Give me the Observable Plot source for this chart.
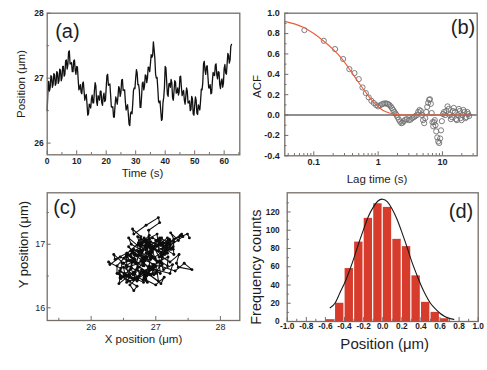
<!DOCTYPE html>
<html><head><meta charset="utf-8">
<script src="https://cdn.jsdelivr.net/npm/d3@7"></script>
<script src="https://cdn.jsdelivr.net/npm/@observablehq/plot@0.6"></script>
<style>
body{margin:0;background:#fff;}
#fig{position:relative;width:487px;height:370px;overflow:hidden;background:#fff;}
#fig > div{position:absolute;height:185px;}
svg{overflow:visible;}
</style></head><body>
<div id="fig"><div id="pa" style="left:0;top:0;width:243px"></div><div id="pb" style="left:243px;top:0;width:244px"></div><div id="pc" style="left:0;top:185px;width:243px"></div><div id="pd" style="left:243px;top:185px;width:244px"></div></div>
<script>
// ---------- DATA ----------
// (a) X position vs time, sampled every 0.25 s (4 values per second)
const timeStep = 0.25;
const posX = [
26.50,26.82,26.95,26.80, 26.85,27.04,27.02,26.86, 26.90,27.07,27.05,26.89, 26.92,27.10,27.08,26.92,
26.96,27.14,27.12,26.96, 27.00,27.18,27.18,27.03, 27.06,27.27,27.28,27.14, 27.20,27.40,27.42,27.22,
27.22,27.24,27.10,27.10, 27.27,27.28,27.12,27.06, 27.18,27.17,26.98,26.82, 26.85,26.90,26.78,26.76,
26.92,26.94,26.80,26.66, 26.72,26.75,26.60,26.43, 26.45,26.60,26.58,26.54, 26.68,26.74,26.62,26.62,
26.80,26.93,26.88,26.64, 26.58,26.73,26.70,26.66, 26.80,26.80,26.62,26.58, 26.72,26.77,26.64,26.66,
26.85,27.04,27.06,26.89, 26.90,26.91,26.74,26.56, 26.55,26.56,26.40,26.40, 26.58,26.71,26.66,26.60,
26.72,26.87,26.84,26.72, 26.78,26.97,26.98,26.81, 26.82,26.82,26.64,26.51, 26.55,26.59,26.45,26.29,
26.27,26.46,26.48,26.45, 26.60,26.81,26.85,26.84, 27.00,27.13,27.08,26.90, 26.90,26.81,26.55,26.55,
26.72,26.92,26.94,26.82, 26.88,27.05,27.04,26.93, 27.00,27.17,27.16,27.10, 27.22,27.36,27.32,27.35,
27.56,27.44,27.30,27.06, 27.00,27.01,26.84,26.64, 26.62,26.65,26.50,26.35, 26.37,26.62,26.70,26.85,
27.18,27.16,26.95,26.75, 26.72,26.91,26.92,26.86, 26.98,26.93,26.70,26.66, 26.80,26.96,26.94,26.77,
26.78,26.85,26.74,26.79, 27.02,27.03,26.86,26.73, 26.78,26.81,26.66,26.60, 26.72,26.85,26.80,26.62,
26.62,26.65,26.50,26.52, 26.72,26.68,26.45,26.43, 26.58,26.71,26.66,26.46, 26.44,26.59,26.55,26.51,
26.65,26.83,26.82,26.93, 27.22,27.26,27.12,27.06, 27.18,27.19,27.02,26.85, 26.85,26.90,26.76,26.77,
26.95,27.09,27.05,27.04, 27.20,27.22,27.05,26.99, 27.10,27.09,26.90,26.84, 26.95,26.99,26.86,26.92,
27.15,27.21,27.08,27.06, 27.22,27.38,27.35,27.23, 27.28,27.49,27.52
];
// (c) Y position, same sampling as posX
const posY = [
16.70,16.52,16.62,16.44, 16.56,16.42,16.58,16.50, 16.66,16.54,16.72,16.62, 16.80,16.68,16.86,16.76,
16.94,16.84,17.02,16.92, 17.06,16.94,17.10,16.98, 17.08,16.92,17.04,16.90, 17.02,17.16,17.12,16.98,
17.06,16.92,17.00,16.86, 16.96,16.84,16.94,16.80, 16.92,17.04,16.96,17.10, 17.00,17.14,17.02,16.88,
16.96,16.80,16.70,16.56, 16.64,16.50,16.42,16.54, 16.46,16.60,16.52,16.66, 16.76,16.64,16.80,16.90,
16.78,16.92,17.02,16.88, 16.96,16.82,16.70,16.84, 16.74,16.90,17.00,17.10, 16.98,17.12,17.24,17.16,
17.30,17.42,17.34,17.22, 17.08,16.94,17.02,16.86, 16.74,16.84,16.66,16.54, 16.42,16.34,16.27,16.36,
16.48,16.40,16.54,16.46, 16.60,16.52,16.68,16.76, 16.66,16.80,16.88,16.78, 16.86,16.74,16.80,16.68,
16.72,16.62,16.70,16.58, 16.50,16.40,16.54,16.44, 16.36,16.48,16.38,16.52, 16.60,16.72,16.64,16.80,
16.90,16.78,16.94,17.04, 16.96,17.08,16.98,16.88, 16.98,16.86,16.92,16.80, 16.72,16.84,16.70,16.64,
16.60,16.70,16.58,16.66, 16.54,16.66,16.58,16.72, 16.64,16.78,16.70,16.84, 16.76,16.90,16.82,16.96,
16.86,17.00,17.10,16.98, 17.12,17.02,16.90,16.78, 16.64,16.52,16.60,16.46, 16.56,16.68,16.60,16.74,
16.86,16.98,16.88,17.04, 17.16,17.06,16.94,17.02, 16.90,16.80,16.92,16.82, 16.70,16.80,16.66,16.74,
16.62,16.52,16.64,16.54, 16.44,16.56,16.48,16.38, 16.50,16.42,16.54,16.46, 16.58,16.48,16.40,16.52,
16.44,16.56,16.48,16.62, 16.54,16.68,16.60,16.74, 16.66,16.80,16.72,16.86, 16.94,16.84,16.98,17.08,
16.96,17.10,17.00,16.90, 17.02,16.92,16.80,16.92, 16.82,16.70,16.84,16.76, 16.88,16.78,16.92,17.04,
16.96,17.08,16.98,17.10, 17.02,17.14,17.06,17.18, 17.08,17.16,17.10
];
// (b) autocorrelation points
const lagTime = [
0.0714,0.143,0.214,0.286,0.357,0.429,0.5,0.571,0.643,0.714,
0.786,0.857,0.929,1.0,1.07,1.14,1.21,1.29,1.36,1.43,
1.5,1.57,1.64,1.71,1.79,1.86,1.93,2.0,2.1,2.2,
2.3,2.4,2.5,2.65,2.8,3.0,3.2,3.4,3.6,3.8,
4.0,4.2,4.4,4.6,4.8,5.0,5.2,5.4,5.6,5.8,
6.0,6.2,6.4,6.6,6.8,7.0,7.2,7.4,7.6,7.8,
8.0,8.3,8.6,8.9,9.2,9.5,9.8,10.2,10.6,11.0,
11.5,12.0,12.5,13.0,13.5,14.0,14.5,15.0,15.6,16.2,
16.8,17.4,18.0,18.6,19.2,19.8,20.5,21.2,22.0,22.8,
23.6,24.4,25.2,26.0
];
const acfValue = [
0.834,0.729,0.648,0.55,0.451,0.412,0.353,0.271,0.216,0.173,
0.14,0.118,0.098,0.085,0.095,0.105,0.112,0.115,0.113,0.108,
0.098,0.085,0.068,0.05,0.032,0.015,0.0,-0.02,-0.045,-0.065,
-0.08,-0.075,-0.06,-0.045,-0.04,-0.05,-0.045,-0.03,-0.02,-0.01,
0.0,0.03,0.05,0.04,0.0,-0.05,-0.08,-0.03,0.03,0.08,
0.12,0.15,0.155,0.11,0.02,-0.07,-0.11,-0.07,-0.05,-0.1,
-0.16,-0.22,-0.26,-0.275,-0.23,-0.15,-0.06,0.01,0.03,0.0,
0.04,0.085,0.06,0.0,-0.04,-0.02,0.04,0.07,0.03,-0.04,
-0.05,0.0,0.06,0.04,-0.03,-0.05,0.0,0.05,0.03,-0.03,
-0.02,0.03,0.01,-0.01
];
// (b) fitted curve
const fitLag = [0.0354,0.05,0.07,0.1,0.14,0.2,0.28,0.35,0.45,0.55,0.7,0.85,1.0,1.2,1.5,2.0,3,5,10,20,26];
const fitAcf = [0.92,0.895,0.86,0.80,0.73,0.645,0.545,0.46,0.36,0.28,0.19,0.125,0.08,0.045,0.02,0.005,0.0,0.0,0.0,0.0,0.0];
// (d) histogram
const binStart = [-0.6,-0.5,-0.4,-0.3,-0.2,-0.1,0.0,0.1,0.2,0.3,0.4,0.5,0.6];
const binWidth = 0.1;
const binCount = [2,20,58,87,113,129,125,90,82,50,21,10,3];
// (d) Gaussian fit curve
const gaussX = [-0.55,-0.5,-0.45,-0.4,-0.35,-0.3,-0.25,-0.2,-0.15,-0.1,-0.05,0,0.05,0.1,0.15,0.2,0.25,0.3,0.35,0.4,0.45,0.5,0.55,0.6,0.65,0.7,0.745];
const gaussY = [15,20,31,42,55,70,86,101,115,125,132,134,131,123,112,98,83,67,53,40,29,20,14,9,5.6,3.4,2.3];
// tick values
const aXTicks = [0,10,20,30,40,50,60], aXMinor = [5,15,25,35,45,55,65];
const aYTicks = [26,27,28], aYMinor = [26.5,27.5];
const bXTicks = [0.1,1,10], bXMinor = [0.04,0.05,0.06,0.07,0.08,0.09,0.2,0.3,0.4,0.5,0.6,0.7,0.8,0.9,2,3,4,5,6,7,8,9,20,30];
const bYTicks = [-0.4,-0.2,0.0,0.2,0.4,0.6,0.8,1.0], bYMinor = [-0.3,-0.1,0.1,0.3,0.5,0.7,0.9];
const cXTicks = [26,27,28], cXMinor = [25.5,26.5,27.5];
const cYTicks = [16,17], cYMinor = [16.5,17.5];
const dXTicks = [-1.0,-0.8,-0.6,-0.4,-0.2,0.0,0.2,0.4,0.6,0.8,1.0], dXMinor = [-0.9,-0.7,-0.5,-0.3,-0.1,0.1,0.3,0.5,0.7,0.9];
const dYTicks = [0,20,40,60,80,100,120], dYMinor = [10,30,50,70,90,110,130];

// ---------- TABLES ----------
const track = posX.map((x, i) => ({t: i * timeStep, x, y: posY[i]}));
const acf = lagTime.map((t, i) => ({t, v: acfValue[i]}));
const fit = fitLag.map((t, i) => ({t, v: fitAcf[i]}));
const bins = binStart.map((s, i) => ({x1: s, x2: s + binWidth, n: binCount[i]}));
const gauss = gaussX.map((x, i) => ({x, y: gaussY[i]}));

// ---------- DRAW ----------
const FONT = '"Liberation Sans", Arial, Helvetica, sans-serif';
const FRAME = "#746e69";
const INK = "#1e1e1e";

function panel(id, c) {
  const pw = c.width - c.ml - c.mr, ph = c.height - c.mt - c.mb;
  const marks = [
    ...c.marks,
    Plot.frame({stroke: FRAME, strokeWidth: 1.3}),
    Plot.tickX(c.xt, {x: d => d, stroke: FRAME, strokeWidth: 1, insetTop: ph - 4}),
    Plot.tickX(c.xm, {x: d => d, stroke: FRAME, strokeWidth: 1, insetTop: ph - 2.2}),
    Plot.tickY(c.yt, {y: d => d, stroke: FRAME, strokeWidth: 1, insetRight: pw - 4}),
    Plot.tickY(c.ym, {y: d => d, stroke: FRAME, strokeWidth: 1, insetRight: pw - 2.2}),
    Plot.axisX(c.xt, {tickSize: 0, tickPadding: c.xPad, tickFormat: c.xFmt, fontSize: c.tfs, fontWeight: c.tfw, fill: INK, label: null}),
    Plot.axisY(c.yt, {tickSize: 0, tickPadding: c.yPad, tickFormat: c.yFmt, fontSize: c.tfs, fontWeight: c.tfw, fill: INK, label: null}),
    Plot.text([c.xLabel], {text: d => d, frameAnchor: "bottom", dx: c.xlDx || 0, dy: c.xlDy, fontSize: c.xlFs, lineAnchor: "middle", textAnchor: "middle", fill: INK}),
    Plot.text([c.yLabel], {text: d => d, frameAnchor: "left", rotate: -90, dx: c.ylDx, dy: c.ylDy || 0, fontSize: c.ylFs, lineAnchor: "middle", textAnchor: "middle", fill: INK}),
    Plot.text([c.tag], {text: d => d, frameAnchor: c.tagAnchor, dx: c.tagDx, dy: c.tagDy, fontSize: 20, lineAnchor: "top", textAnchor: c.tagAnchor.endsWith("left") ? "start" : "end", fill: INK})
  ];
  const p = Plot.plot({
    width: c.width, height: c.height,
    marginLeft: c.ml, marginRight: c.mr, marginTop: c.mt, marginBottom: c.mb,
    x: {...c.x, axis: null}, y: {...c.y, axis: null},
    style: {fontFamily: FONT, background: "transparent", overflow: "visible"},
    marks
  });
  document.getElementById(id).appendChild(p);
}

const f1 = d => d.toFixed(1);

panel("pa", {
  width: 243, height: 185, ml: 46.7, mr: 3.7, mt: 12.7, mb: 30.7,
  x: {domain: [0, 65.3]}, y: {domain: [25.82, 28]},
  xt: aXTicks, xm: aXMinor, yt: aYTicks, ym: aYMinor,
  xPad: 3, yPad: 3.4, tfs: 8.5, tfw: "bold", xFmt: d => String(d), yFmt: d => String(d),
  xLabel: "Time (s)", xlDy: 19, xlFs: 11.5, xlDx: -1,
  yLabel: "Position (μm)", ylDx: -26, ylFs: 11.5,
  tag: "(a)", tagAnchor: "top-left", tagDx: 8, tagDy: 11,
  marks: [Plot.line(track, {x: "t", y: "x", stroke: "#111", strokeWidth: 1.3, strokeLinejoin: "round"})]
});

panel("pb", {
  width: 244, height: 185, ml: 41.3, mr: 10.3, mt: 12.7, mb: 29.7,
  x: {type: "log", domain: [0.0354, 34.7]}, y: {domain: [-0.4, 1.0]},
  xt: bXTicks, xm: bXMinor, yt: bYTicks, ym: bYMinor,
  xPad: 3, yPad: 5, tfs: 9, tfw: "bold", xFmt: d => String(d), yFmt: f1,
  xLabel: "Lag time (s)", xlDy: 23.5, xlDx: -4, xlFs: 11.5,
  yLabel: "ACF", ylDx: -27.3, ylDy: 2, ylFs: 11.5,
  tag: "(b)", tagAnchor: "top-right", tagDx: -2, tagDy: 7,
  marks: [
    Plot.ruleY([0], {stroke: "#6d6a67", strokeWidth: 1.5}),
    Plot.dot(acf, {x: "t", y: "v", r: 2.6, stroke: "#707070", strokeWidth: 0.9, fill: "none"}),
    Plot.line(fit, {x: "t", y: "v", stroke: "#ef5b3a", strokeWidth: 1.1, curve: "monotone-x"})
  ]
});

panel("pc", {
  width: 243, height: 185, ml: 46.7, mr: 3.7, mt: 7.3, mb: 50,
  x: {domain: [25.32, 28.3]}, y: {domain: [15.80, 17.81]},
  xt: cXTicks, xm: cXMinor, yt: cYTicks, ym: cYMinor,
  xPad: 3.5, yPad: 2, tfs: 9, tfw: "normal", xFmt: d => String(d), yFmt: d => String(d),
  xLabel: "X position (μm)", xlDy: 19, xlFs: 11.5,
  yLabel: "Y position (μm)", ylDx: -23, ylDy: -12, ylFs: 13,
  tag: "(c)", tagAnchor: "top-left", tagDx: 6, tagDy: 7,
  marks: [
    Plot.line(track, {x: "x", y: "y", stroke: "#0d0d0d", strokeWidth: 1.05}),
    Plot.dot(track, {x: "x", y: "y", r: 1.45, fill: "#0d0d0d", stroke: "none"})
  ]
});

panel("pd", {
  width: 244, height: 185, ml: 43.7, mr: 9.3, mt: 7.3, mb: 49,
  x: {domain: [-1, 1]}, y: {domain: [0, 141]},
  xt: dXTicks, xm: dXMinor, yt: dYTicks, ym: dYMinor,
  xPad: 1.5, yPad: 7.5, tfs: 8.3, tfw: "bold", xFmt: f1, yFmt: d => String(d),
  xLabel: "Position (μm)", xlDy: 22.5, xlDx: 2, xlFs: 15,
  yLabel: "Frequency counts", ylDx: -31, ylDy: 10, ylFs: 14.5,
  tag: "(d)", tagAnchor: "top-right", tagDx: -5, tagDy: 11,
  marks: [
    Plot.rectY(bins, {x1: "x1", x2: "x2", y: "n", fill: "#d63b2c", insetLeft: 0.6, insetRight: 0.6}),
    Plot.line(gauss, {x: "x", y: "y", stroke: "#1a1a1a", strokeWidth: 1.1, curve: "natural"})
  ]
});
</script>
</body></html>
